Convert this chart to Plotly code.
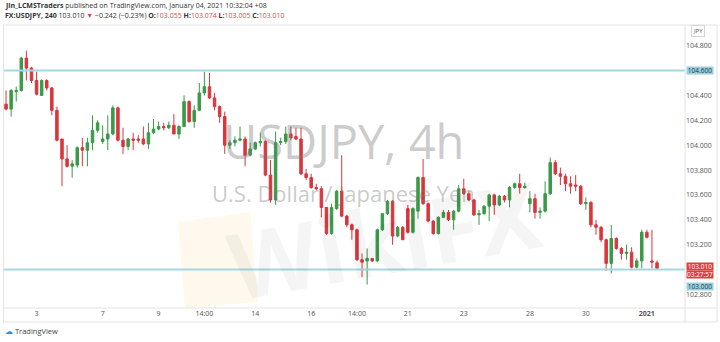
import plotly.graph_objects as go

# ---------------- data (USDJPY 4h candles) ----------------
opens = [104.33,104.29,104.43,104.44,104.70,104.62,104.52,104.40,104.52,104.46,
         104.28,104.05,103.89,103.83,103.84,103.98,103.96,104.02,104.12,104.03,
         104.05,104.09,104.30,104.04,103.99,104.05,104.05,104.05,104.01,104.10,
         104.13,104.15,104.14,104.16,104.09,104.15,104.35,104.19,104.28,104.42,
         104.47,104.38,104.31,104.23,104.00,104.02,104.04,104.05,103.92,103.97,
         104.02,104.03,103.76,103.56,104.02,104.03,104.09,104.07,104.05,103.77,
         103.74,103.66,103.65,103.50,103.29,103.49,103.63,103.43,103.36,103.32,
         103.08,103.07,103.09,103.07,103.32,103.45,103.55,103.27,103.34,103.49,
         103.30,103.47,103.74,103.53,103.39,103.29,103.42,103.46,103.40,103.47,
         103.65,103.61,103.56,103.44,103.45,103.51,103.60,103.52,103.59,103.56,
         103.66,103.69,103.66,103.53,103.57,103.46,103.47,103.61,103.86,103.77,
         103.75,103.69,103.68,103.67,103.53,103.54,103.36,103.34,103.24,103.05,
         103.25,103.17,103.13,103.14,103.02,103.07,103.30,103.07,103.055]
highs = [104.44,104.45,104.47,104.71,104.76,104.63,104.59,104.53,104.53,104.47,
         104.31,104.05,104.00,103.88,103.99,104.06,104.06,104.24,104.20,104.16,
         104.24,104.32,104.31,104.14,104.06,104.10,104.08,104.15,104.18,104.21,
         104.19,104.18,104.19,104.25,104.16,104.40,104.36,104.32,104.50,104.59,
         104.58,104.42,104.32,104.27,104.04,104.07,104.15,104.07,104.02,104.03,
         104.10,104.04,103.88,104.11,104.06,104.15,104.15,104.14,104.14,103.81,
         103.77,103.69,103.67,103.50,103.53,103.64,103.92,103.44,103.37,103.33,
         103.13,103.17,103.09,103.33,103.45,103.56,103.56,103.35,103.35,103.52,
         103.50,103.75,103.89,103.54,103.40,103.43,103.48,103.48,103.48,103.68,
         103.73,103.63,103.57,103.48,103.52,103.61,103.61,103.60,103.60,103.67,
         103.70,103.77,103.70,103.63,103.61,103.50,103.71,103.90,103.88,103.82,
         103.77,103.75,103.76,103.68,103.58,103.55,103.40,103.35,103.25,103.36,
         103.26,103.18,103.20,103.18,103.09,103.32,103.32,103.32,103.074]
lows = [104.28,104.23,104.35,104.43,104.52,104.50,104.40,104.40,104.44,104.24,
        104.03,103.67,103.82,103.74,103.82,103.83,103.83,103.96,104.10,104.01,
        103.96,104.08,104.03,103.93,103.96,103.96,104.02,104.00,103.97,104.09,
        104.12,104.12,104.13,104.09,104.05,104.15,104.18,104.14,104.28,104.40,
        104.37,104.28,104.18,103.93,103.97,103.99,104.03,103.83,103.91,103.96,
        103.99,103.75,103.54,103.52,104.00,104.01,104.04,104.04,103.76,103.72,
        103.65,103.64,103.42,103.28,103.28,103.48,103.42,103.34,103.24,103.07,
        102.94,102.88,103.06,103.06,103.31,103.44,103.20,103.26,103.24,103.29,
        103.29,103.41,103.52,103.38,103.28,103.28,103.42,103.39,103.32,103.46,
        103.60,103.55,103.43,103.36,103.44,103.39,103.44,103.51,103.54,103.50,
        103.65,103.61,103.65,103.46,103.41,103.41,103.46,103.60,103.76,103.68,
        103.63,103.61,103.63,103.52,103.48,103.34,103.28,103.22,102.99,102.97,
        103.16,103.08,103.08,103.01,103.01,103.01,103.25,103.01,103.005]
closes = [104.29,104.44,104.44,104.70,104.62,104.52,104.41,104.52,104.46,104.28,
          104.04,103.89,103.83,103.85,103.98,103.96,104.02,104.12,104.18,104.05,
          104.09,104.30,104.04,103.99,104.05,104.04,104.04,104.01,104.10,104.13,
          104.15,104.14,104.16,104.09,104.15,104.35,104.19,104.28,104.42,104.47,
          104.38,104.31,104.23,104.00,104.02,104.04,104.05,103.92,103.97,104.02,
          104.03,103.76,103.56,104.02,104.03,104.09,104.06,104.05,103.77,103.74,
          103.66,103.65,103.50,103.29,103.50,103.63,103.43,103.36,103.32,103.08,
          103.06,103.09,103.07,103.32,103.45,103.55,103.27,103.34,103.24,103.30,
          103.49,103.74,103.53,103.39,103.29,103.42,103.46,103.40,103.47,103.65,
          103.61,103.56,103.44,103.45,103.51,103.60,103.52,103.59,103.56,103.66,
          103.69,103.66,103.67,103.57,103.46,103.47,103.61,103.86,103.77,103.75,
          103.69,103.67,103.67,103.53,103.54,103.36,103.34,103.24,103.05,103.25,
          103.17,103.13,103.14,103.02,103.07,103.30,103.26,103.06,103.010]
candle_idx = list(range(len(opens)))

tick_idx = [6, 19, 30, 39, 49, 60, 69, 79, 90, 103, 114, 126]
tick_labels = ["3", "7", "9", "14:00", "14", "16", "14:00", "21", "23", "28", "30", "<b>2021</b>"]
price_ticks = [102.8, 103.2, 103.4, 103.6, 103.8, 104.0, 104.2, 104.4, 104.8]
hlines = [104.6, 103.0]
hline_labels = ["104.600", "103.000"]
last_price = 103.010
last_label = "103.010"
countdown = "03:27:57"

# ---------------- layout geometry (pixels) ----------------
W, H = 720, 342
L, R, T, B = 3, 685, 25, 308
PW, PH = R - L, B - T
def px(x):
    return (x - L) / PW
def py(y):
    return (B - y) / PH

UP, DOWN = "#3a9a48", "#d9363e"
LINE_BLUE = "#a6d6e2"
FONT = "Open Sans"

fig = go.Figure()
fig.add_trace(go.Candlestick(
    x=candle_idx, open=opens, high=highs, low=lows, close=closes,
    increasing=dict(line=dict(color=UP, width=1), fillcolor=UP),
    decreasing=dict(line=dict(color=DOWN, width=1), fillcolor=DOWN),
    whiskerwidth=0, hoverinfo="skip", showlegend=False,
))

shapes = []
# watermark logo square (pale yellow)
shapes.append(dict(type="path", xref="paper", yref="paper",
                   path="M {} {} L {} {} L {} {} L {} {} Z".format(
                       px(178), py(222), px(250), py(212), px(258), py(302), px(185), py(308)),
                   fillcolor="rgba(248,214,120,0.14)", line=dict(width=0), layer="below"))
for hv in hlines:
    shapes.append(dict(type="line", xref="paper", yref="y", x0=0, x1=1, y0=hv, y1=hv,
                       line=dict(color=LINE_BLUE, width=2)))
# frame lines
frame = "#e3e3e3"
shapes += [
    dict(type="line", xref="paper", yref="paper", x0=px(3), x1=px(717), y0=py(25), y1=py(25), line=dict(color=frame, width=1)),
    dict(type="line", xref="paper", yref="paper", x0=px(3), x1=px(717), y0=py(308), y1=py(308), line=dict(color=frame, width=1)),
    dict(type="line", xref="paper", yref="paper", x0=px(3), x1=px(717), y0=py(322), y1=py(322), line=dict(color=frame, width=1)),
    dict(type="line", xref="paper", yref="paper", x0=px(3.5), x1=px(3.5), y0=py(25), y1=py(322), line=dict(color=frame, width=1)),
    dict(type="line", xref="paper", yref="paper", x0=px(685), x1=px(685), y0=py(25), y1=py(322), line=dict(color=frame, width=1)),
    dict(type="line", xref="paper", yref="paper", x0=px(717), x1=px(717), y0=py(25), y1=py(322), line=dict(color=frame, width=1)),
]

red_txt = "#e04848"
ann = []
base = dict(xref="paper", yref="paper", showarrow=False, xanchor="center", yanchor="middle")
# watermark texts
ann.append(dict(base, x=px(385), y=py(238), text="<b>WikiFX</b>", textangle=-10,
                font=dict(family=FONT, size=92, color="rgba(0,0,0,0.04)")))
ann.append(dict(base, x=px(343), y=py(141), text="USDJPY, 4h",
                font=dict(family=FONT, size=47, color="rgba(120,120,120,0.40)")))
ann.append(dict(base, x=px(343), y=py(193), text="U.S. Dollar / Japanese Yen",
                font=dict(family=FONT, size=22, color="rgba(120,120,120,0.40)")))
# header
ann.append(dict(base, x=px(3), y=py(5.5), xanchor="left",
                text="<b>Jin_LCMSTraders</b> published on TradingView.com, January 04, 2021 10:32:04 +08",
                font=dict(family=FONT, size=7, color="#333")))
ann.append(dict(base, x=px(3), y=py(15.5), xanchor="left",
                text=("<b>FX:USDJPY, 240</b> 103.010 <span style='color:%s'>▼</span> −0.242 (−0.23%%) "
                      "<b>O:</b><span style='color:%s'>103.055</span> <b>H:</b><span style='color:%s'>103.074</span> "
                      "<b>L:</b><span style='color:%s'>103.005</span> <b>C:</b><span style='color:%s'>103.010</span>")
                     % (red_txt, red_txt, red_txt, red_txt, red_txt),
                font=dict(family=FONT, size=7, color="#333")))
# footer logo
ann.append(dict(base, x=px(3), y=py(331), xanchor="left",
                text="<span style='color:#2a8ee0'>☁</span> TradingView",
                font=dict(family=FONT, size=7.5, color="#444")))
# JPY unit box
ann.append(dict(base, x=px(698), y=py(30.5), text="JPY",
                font=dict(family=FONT, size=6, color="#555"), bordercolor="#d6d6d6", borderwidth=1, borderpad=1))
# right price labels
lab = dict(xref="paper", yref="y", x=1, xanchor="left", yanchor="middle", xshift=1, showarrow=False,
           width=26, height=7, borderpad=0)
ann.append(dict(lab, y=hlines[0], text=hline_labels[0], bgcolor="#99d1df", font=dict(family=FONT, size=6.5, color="#234")))
ann.append(dict(lab, y=hlines[1], yshift=-16.7, text=hline_labels[1], bgcolor="#99d1df", font=dict(family=FONT, size=6.5, color="#234")))
ann.append(dict(lab, y=last_price, yshift=2.2, text=last_label, bgcolor="#e23d3d", font=dict(family=FONT, size=6.5, color="white")))
ann.append(dict(lab, y=last_price, yshift=-6.0, text=countdown, bgcolor="#e23d3d", font=dict(family=FONT, size=6.5, color="white")))

fig.update_layout(
    width=W, height=H, margin=dict(l=L, r=W - R, t=T, b=H - B),
    paper_bgcolor="white", plot_bgcolor="white",
    shapes=shapes, annotations=ann, showlegend=False,
    xaxis=dict(range=[-0.6, 133.5], tickmode="array", tickvals=tick_idx, ticktext=tick_labels,
               showgrid=False, zeroline=False, showline=False, ticks="",
               tickfont=dict(family=FONT, size=7, color="#555"), rangeslider=dict(visible=False),
               fixedrange=True),
    yaxis=dict(side="right", range=[102.6915, 104.966], tickmode="array", tickvals=price_ticks,
               ticktext=["%.3f" % v for v in price_ticks], showgrid=False, zeroline=False,
               showline=False, ticks="", tickfont=dict(family=FONT, size=7, color="#555"),
               fixedrange=True),
    boxgap=0.3,
)
fig.write_html("out.html")
